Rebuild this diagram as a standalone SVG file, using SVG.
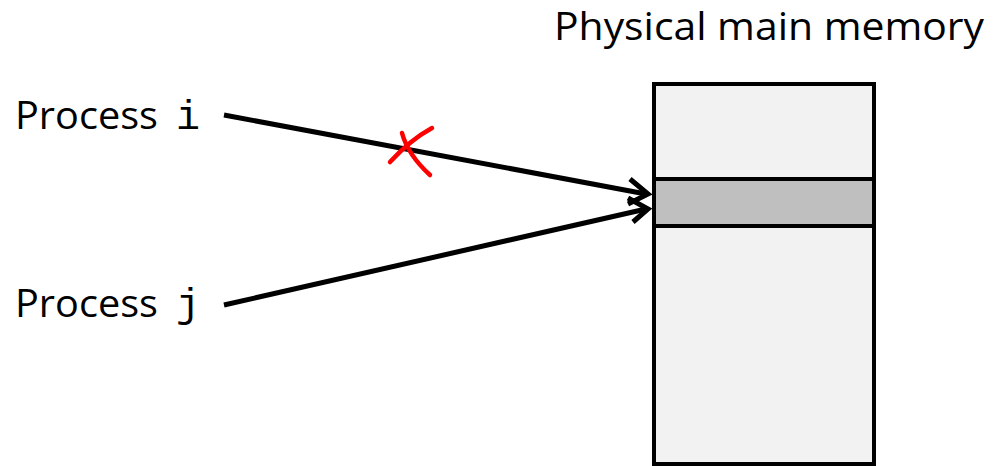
<svg xmlns="http://www.w3.org/2000/svg" width="993" height="466" viewBox="0 0 993 466">
<style>
.lbl{font-family:"Open Sans","Liberation Sans",sans-serif;font-size:39px;fill:#000}
.mono{font-family:"Liberation Mono","DejaVu Sans Mono",monospace;font-size:40px}
.conn{stroke:#000;stroke-width:5;fill:none;stroke-linecap:butt}
.head{stroke:#000;stroke-width:5;fill:none;stroke-linejoin:miter}
</style>
<rect width="993" height="466" fill="#fff"/>
<g id="memory">
<rect x="654" y="84" width="220" height="380" fill="#f2f2f2" stroke="#000" stroke-width="4"/>
<rect x="654" y="179" width="220" height="47" fill="#bfbfbf" stroke="#000" stroke-width="4"/>
<text class="lbl" x="554" y="40" textLength="430" lengthAdjust="spacingAndGlyphs">Physical main memory</text>
</g>
<g id="process-i">
<text class="lbl" x="15" y="129" textLength="143" lengthAdjust="spacingAndGlyphs">Process</text>
<text class="lbl mono" x="176" y="129">i</text>
</g>
<g id="process-j">
<text class="lbl" x="15" y="317" textLength="143" lengthAdjust="spacingAndGlyphs">Process</text>
<text class="lbl mono" x="176" y="317">j</text>
</g>
<g id="connectors">
<line class="conn" x1="224" y1="115" x2="646" y2="194"/>
<polyline class="head" points="630,179 648,194 628,204"/>
<line class="conn" x1="224" y1="305" x2="646" y2="209"/>
<polyline class="head" points="628,198 648,209 633,222"/>
</g>
<g id="blocked-mark" fill="none" stroke="#ff0000" stroke-width="4.5" stroke-linecap="round">
<path d="M390,162 Q410,140 432,128"/>
<path d="M402,133 Q408,155 430,175"/>
</g>
</svg>
